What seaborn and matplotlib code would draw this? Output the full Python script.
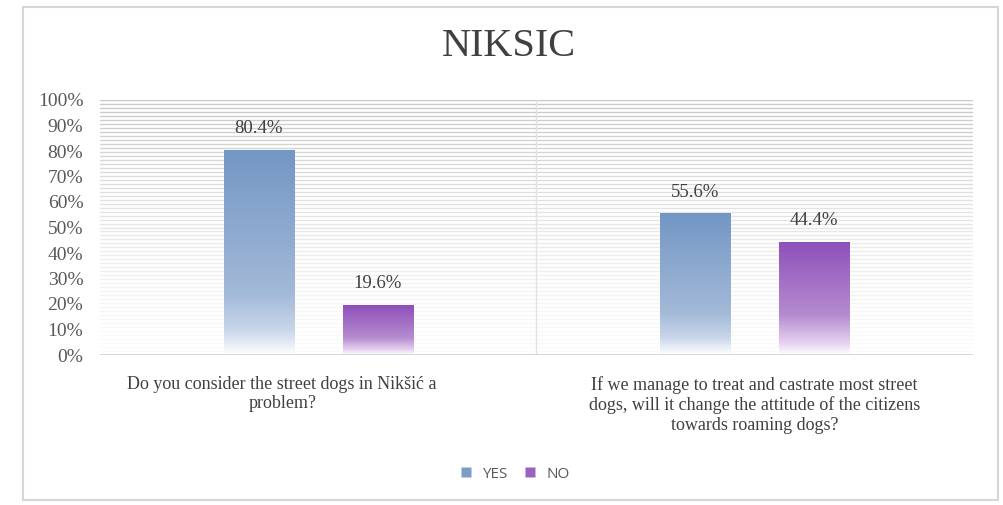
import numpy as np
import pandas as pd
import matplotlib
matplotlib.use("Agg")
import matplotlib.pyplot as plt
import seaborn as sns
from matplotlib.patches import Rectangle
from matplotlib.colors import LinearSegmentedColormap
from matplotlib.ticker import FuncFormatter, MultipleLocator
from matplotlib.transforms import ScaledTranslation
from matplotlib.lines import Line2D

categories = [
    "Do you consider the street dogs in Nikšić a\nproblem?",
    "If we manage to treat and castrate most street\ndogs, will it change the attitude of the citizens\ntowards roaming dogs?",
]
series = ["YES", "NO"]
yes_values = [80.4, 55.6]
no_values = [19.6, 44.4]
title = "NIKSIC"

df = pd.DataFrame({
    "question": categories * 2,
    "answer": ["YES"] * 2 + ["NO"] * 2,
    "value": yes_values + no_values,
})

sns.set_theme(style="white")
plt.rcParams["font.family"] = ["Liberation Serif", "DejaVu Serif"]

fig = plt.figure(figsize=(10.04, 5.05), dpi=100)
fig.patch.set_facecolor("white")
# outer chart frame
fig.patches.append(Rectangle((23 / 1004, 5 / 505), 975 / 1004, 493 / 505,
                             transform=fig.transFigure, fill=False,
                             edgecolor="#d6d6d6", linewidth=1.5, zorder=0))

ax = fig.add_axes([100 / 1004, 150 / 505, 873 / 1004, 255 / 505])

palette = {"YES": "#7d9cc6", "NO": "#9a62bf"}
sns.barplot(data=df, x="question", y="value", hue="answer", order=categories,
            hue_order=series, palette=palette, width=0.545, gap=0.41,
            ax=ax, legend=False, saturation=1, zorder=3)

ax.set_xlim(-0.5, 1.5)
ax.set_ylim(0, 100)

# patterned background: dense horizontal lines fading downward
for y in np.arange(100, 0, -100 / 64):
    a = 0.08 + 0.92 * (y / 100) ** 1.4
    ax.axhline(y, color="#c8c8c8", linewidth=1.0, alpha=a, zorder=1)
ax.axvline(0.5, color="#e2e2e2", linewidth=1.0, zorder=1)
ax.axhline(0, color="#d0d0d0", linewidth=1.2, zorder=4)

# gradient fill of bars
grads = {
    "YES": LinearSegmentedColormap.from_list("y", [(0, "#ffffff"), (0.12, "#c9d6ea"), (0.3, "#a3b9d8"), (1, "#7396c4")]),
    "NO": LinearSegmentedColormap.from_list("n", [(0, "#ffffff"), (0.12, "#e3cdef"), (0.35, "#b58ccf"), (1, "#8e4fba")]),
}
bar_series = ["YES", "YES", "NO", "NO"]
for patch, s in zip(ax.patches, bar_series):
    x0, y0 = patch.get_x(), patch.get_y()
    w, h = patch.get_width(), patch.get_height()
    grad = np.linspace(0, 1, 256).reshape(-1, 1)
    im = ax.imshow(grad, extent=[x0, x0 + w, 0, h], origin="lower",
                   cmap=grads[s], aspect="auto", zorder=3.5)
    im.set_clip_path(patch)
    patch.set_edgecolor("none")
    ax.text(x0 + w / 2, h + 8.3, f"{h:.1f}%", ha="center", va="center",
            fontsize=13.5, color="#404040", zorder=5)
ax.set_xlim(-0.5, 1.5)
ax.set_ylim(0, 100)

ax.yaxis.set_major_locator(MultipleLocator(10))
ax.yaxis.set_major_formatter(FuncFormatter(lambda v, p: f"{v:.0f}%"))
ax.tick_params(axis="y", labelsize=14, labelcolor="#595959", length=0, pad=12)
ax.tick_params(axis="x", labelsize=13, labelcolor="#404040", length=0, pad=15)
for i, lbl in enumerate(ax.get_xticklabels()):
    lbl.set_linespacing(1.2)
    lbl.set_va("top")
    if i == 0:
        lbl.set_transform(lbl.get_transform() + ScaledTranslation(-0.36, 0, fig.dpi_scale_trans))
ax.set_xlabel("")
ax.set_ylabel("")
for sp in ax.spines.values():
    sp.set_visible(False)

fig.text(509 / 1004, 1 - 46 / 505, title, ha="center", va="center",
         fontsize=29, color="#404040")

# legend
handles = [Line2D([0], [0], marker="s", linestyle="none", markersize=7,
                  markerfacecolor=palette[s], markeredgecolor="none", label=s)
           for s in series]
leg = fig.legend(handles=handles, loc="center", bbox_to_anchor=(510 / 1004, 1 - 474 / 505),
                 ncol=2, frameon=False, handletextpad=0.05, columnspacing=0.5,
                 prop={"family": ["Open Sans", "DejaVu Sans"], "size": 11})
for t in leg.get_texts():
    t.set_color("#595959")

fig.savefig("out.png", dpi=100, facecolor="white")
